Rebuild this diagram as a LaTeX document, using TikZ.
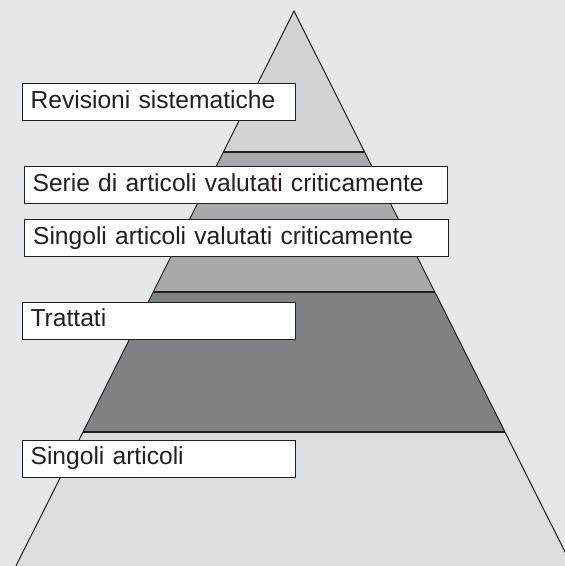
\documentclass[tikz,border=0pt]{standalone}
\usepackage{fontspec}
\setmainfont{Liberation Sans}
\usetikzlibrary{calc,positioning}

\definecolor{paper}{HTML}{E6E7E8}
\definecolor{levelA}{HTML}{D1D2D4}
\definecolor{levelB}{HTML}{A7A9AC}
\definecolor{levelC}{HTML}{808285}
\definecolor{levelD}{HTML}{DCDDDE}
\definecolor{ink}{HTML}{231F20}

\begin{document}
\begin{tikzpicture}[x=0.5pt,y=-0.5pt,every node/.style={draw=ink,outer sep=0pt,line width=0.5pt}]
      \tikzstyle{levelbox}=[fill=white,text=ink,anchor=north west,inner xsep=4.3pt,inner ysep=3.1pt,text height=9.2pt,text depth=3.1pt,align=left,font=\fontsize{12.3}{14.8}\selectfont]
      \tikzstyle{short}=[levelbox,text width=128.2pt]
      \tikzstyle{long}=[levelbox,text width=203.2pt]
      \tikzstyle{edge}=[draw=ink,line width=0.85pt]

      \useasboundingbox (0,0) rectangle (565,566);
      \fill[paper] (0,0) rectangle (565,566);
      \clip (0,0) rectangle (565,566);

      \coordinate (apex) at (294,11);
      \coordinate (bl) at (15.9,566);
      \coordinate (br) at (572.1,566);
      \coordinate (l1) at ($(apex)!0.254!(bl)$);
      \coordinate (r1) at ($(apex)!0.254!(br)$);
      \coordinate (l2) at ($(apex)!0.5063!(bl)$);
      \coordinate (r2) at ($(apex)!0.5063!(br)$);
      \coordinate (l3) at ($(apex)!0.7586!(bl)$);
      \coordinate (r3) at ($(apex)!0.7586!(br)$);

      \fill[levelA] (apex) -- (r1) -- (l1) -- cycle;
      \fill[levelB] (l1) -- (r1) -- (r2) -- (l2) -- cycle;
      \fill[levelC] (l2) -- (r2) -- (r3) -- (l3) -- cycle;
      \fill[levelD] (l3) -- (r3) -- (br) -- (bl) -- cycle;
      \draw[ink,line width=0.5pt] (bl) -- (apex) -- (br);
      \draw[edge] (l1) -- (r1);
      \draw[edge] (l2) -- (r2);
      \draw[edge] (l3) -- (r3);

      \node (rev) [short] at (22,84) {Revisioni sistematiche};
      \node (serie) [long] at (24,167) {Serie di articoli valutati criticamente};
      \node (singval) [long] at (24.5,220) {Singoli articoli valutati criticamente};
      \node (tratt) [short] at (22,302) {Trattati};
      \node (sing) [short] at (22,440) {Singoli articoli};
    \end{tikzpicture}
\end{document}
